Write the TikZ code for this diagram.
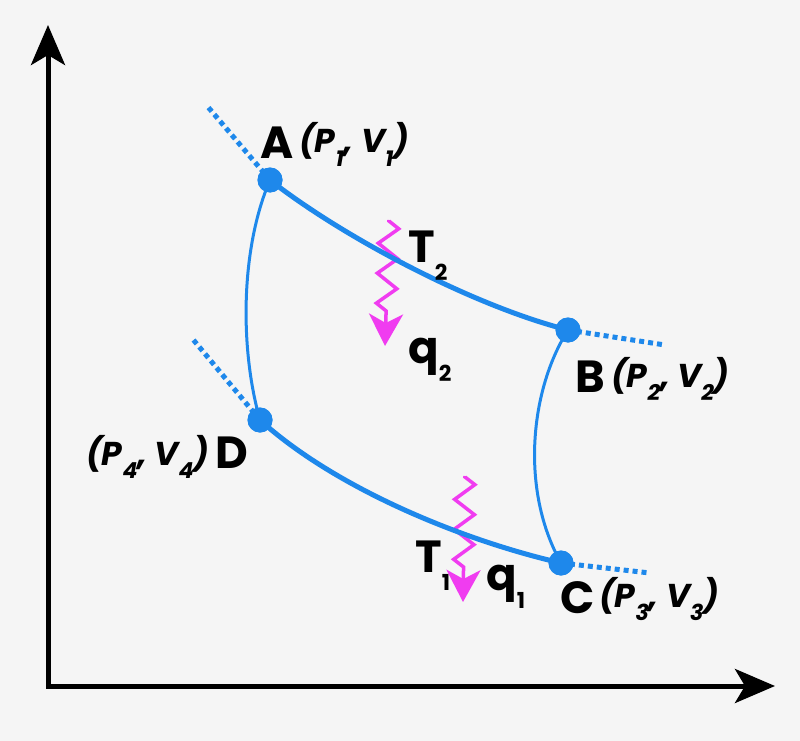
\documentclass[tikz,border=0pt]{standalone}
\usepackage{fontspec}
\setmainfont{Poppins}
\usetikzlibrary{arrows.meta,decorations.pathmorphing}

\definecolor{cycleblue}{RGB}{30,136,235}
\definecolor{heatpink}{RGB}{240,60,240}
\definecolor{paper}{RGB}{245,245,245}

\newcommand{\sub}[1]{\raisebox{-0.42em}{\fontsize{22}{22}\selectfont #1}}
\newcommand{\state}[1]{(P\sub{#1}, V\sub{#1})}

\tikzset{
  dot/.style={circle,fill=cycleblue,inner sep=0pt,minimum size=25pt},
  big/.style={font=\fontsize{45}{45}\selectfont\bfseries,inner sep=0pt},
  pv/.style={font=\fontsize{33}{33}\selectfont\bfseries\itshape,inner sep=0pt},
  adiabat/.style={cycleblue,line width=3pt},
  isotherm/.style={cycleblue,line width=5pt},
  extend/.style={cycleblue,line width=5pt,dash pattern=on 5pt off 4pt},
  axis/.style={line width=5pt,{Stealth[length=40pt,width=34pt,inset=10pt]}-{Stealth[length=40pt,width=34pt,inset=10pt]}},
  heat/.style={heatpink,line width=3.5pt,decorate,
    decoration={zigzag,amplitude=10pt,segment length=30pt,pre length=1pt,post length=28pt},
    -{Stealth[length=32pt,width=34pt,inset=9pt]}}
}

\begin{document}
\begin{tikzpicture}[x=1pt,y=-1pt]
  \useasboundingbox[fill=paper] (0,0) rectangle (800,741);

  % axes
  \coordinate (O)    at (+48,+686);
  \coordinate (ytip) at (+48,+25);
  \coordinate (xtip) at (+775,+686);
  \draw[axis] (ytip) -- (O) -- (xtip);

  % heat flow
  \coordinate (q2top) at (+389,+220);
  \coordinate (q2tip) at (+385,+346);
  \coordinate (q1top) at (+465,+476);
  \coordinate (q1tip) at (+463,+602);
  \draw[heat] (q2top) -- (q2tip);
  \draw[heat] (q1top) -- (q1tip);

  % states
  \node[dot] (A) at (+270,+180) {};
  \node[dot] (B) at (+568,+330) {};
  \node[dot] (C) at (+561,+563) {};
  \node[dot] (D) at (+260,+420) {};

  \coordinate (Aend) at (+208,+107);
  \coordinate (Bend) at (+665,+345);
  \coordinate (Cend) at (+650,+573);
  \coordinate (Dend) at (+191,+337);

  % cycle
  \draw[isotherm] (A.center) .. controls (+340,+235) and (+470,+305) .. (B.center);
  \draw[adiabat]  (B.center) .. controls (+530,+390) and (+520,+490) .. (C.center);
  \draw[isotherm] (D.center) .. controls (+335,+488) and (+461,+540) .. (C.center);
  \draw[adiabat]  (A.center) .. controls (+240,+250) and (+240,+350) .. (D.center);

  \draw[extend] (A.center) -- (Aend);
  \draw[extend] (B.center) -- (Bend);
  \draw[extend] (C.center) -- (Cend);
  \draw[extend] (D.center) -- (Dend);

  \node[dot] at (A) {};
  \node[dot] at (B) {};
  \node[dot] at (C) {};
  \node[dot] at (D) {};

  % labels
  \node[big,anchor=base]      (Alab) at (+277,+158) {A};
  \node[pv,anchor=base west]  (Apv)  at (+299,+153) {\state{1}};
  \node[big,anchor=base]      (Blab) at (+590,+392) {B};
  \node[pv,anchor=base west]  (Bpv)  at (+611,+387) {\state{2}};
  \node[big,anchor=base]      (Clab) at (+578,+613) {C};
  \node[pv,anchor=base west]  (Cpv)  at (+599,+607) {\state{3}};
  \node[big,anchor=base]      (Dlab) at (+232,+468) {D};
  \node[pv,anchor=base west]  (Dpv)  at (+86,+465)  {\state{4}};

  \node[big,anchor=base west] (T2) at (+408,+262) {T\sub{2}};
  \node[big,anchor=base west] (q2) at (+408,+363) {q\sub{2}};
  \node[big,anchor=base west] (T1) at (+415,+572) {T\sub{1}};
  \node[big,anchor=base west] (q1) at (+486,+590) {q\sub{1}};
\end{tikzpicture}
\end{document}
